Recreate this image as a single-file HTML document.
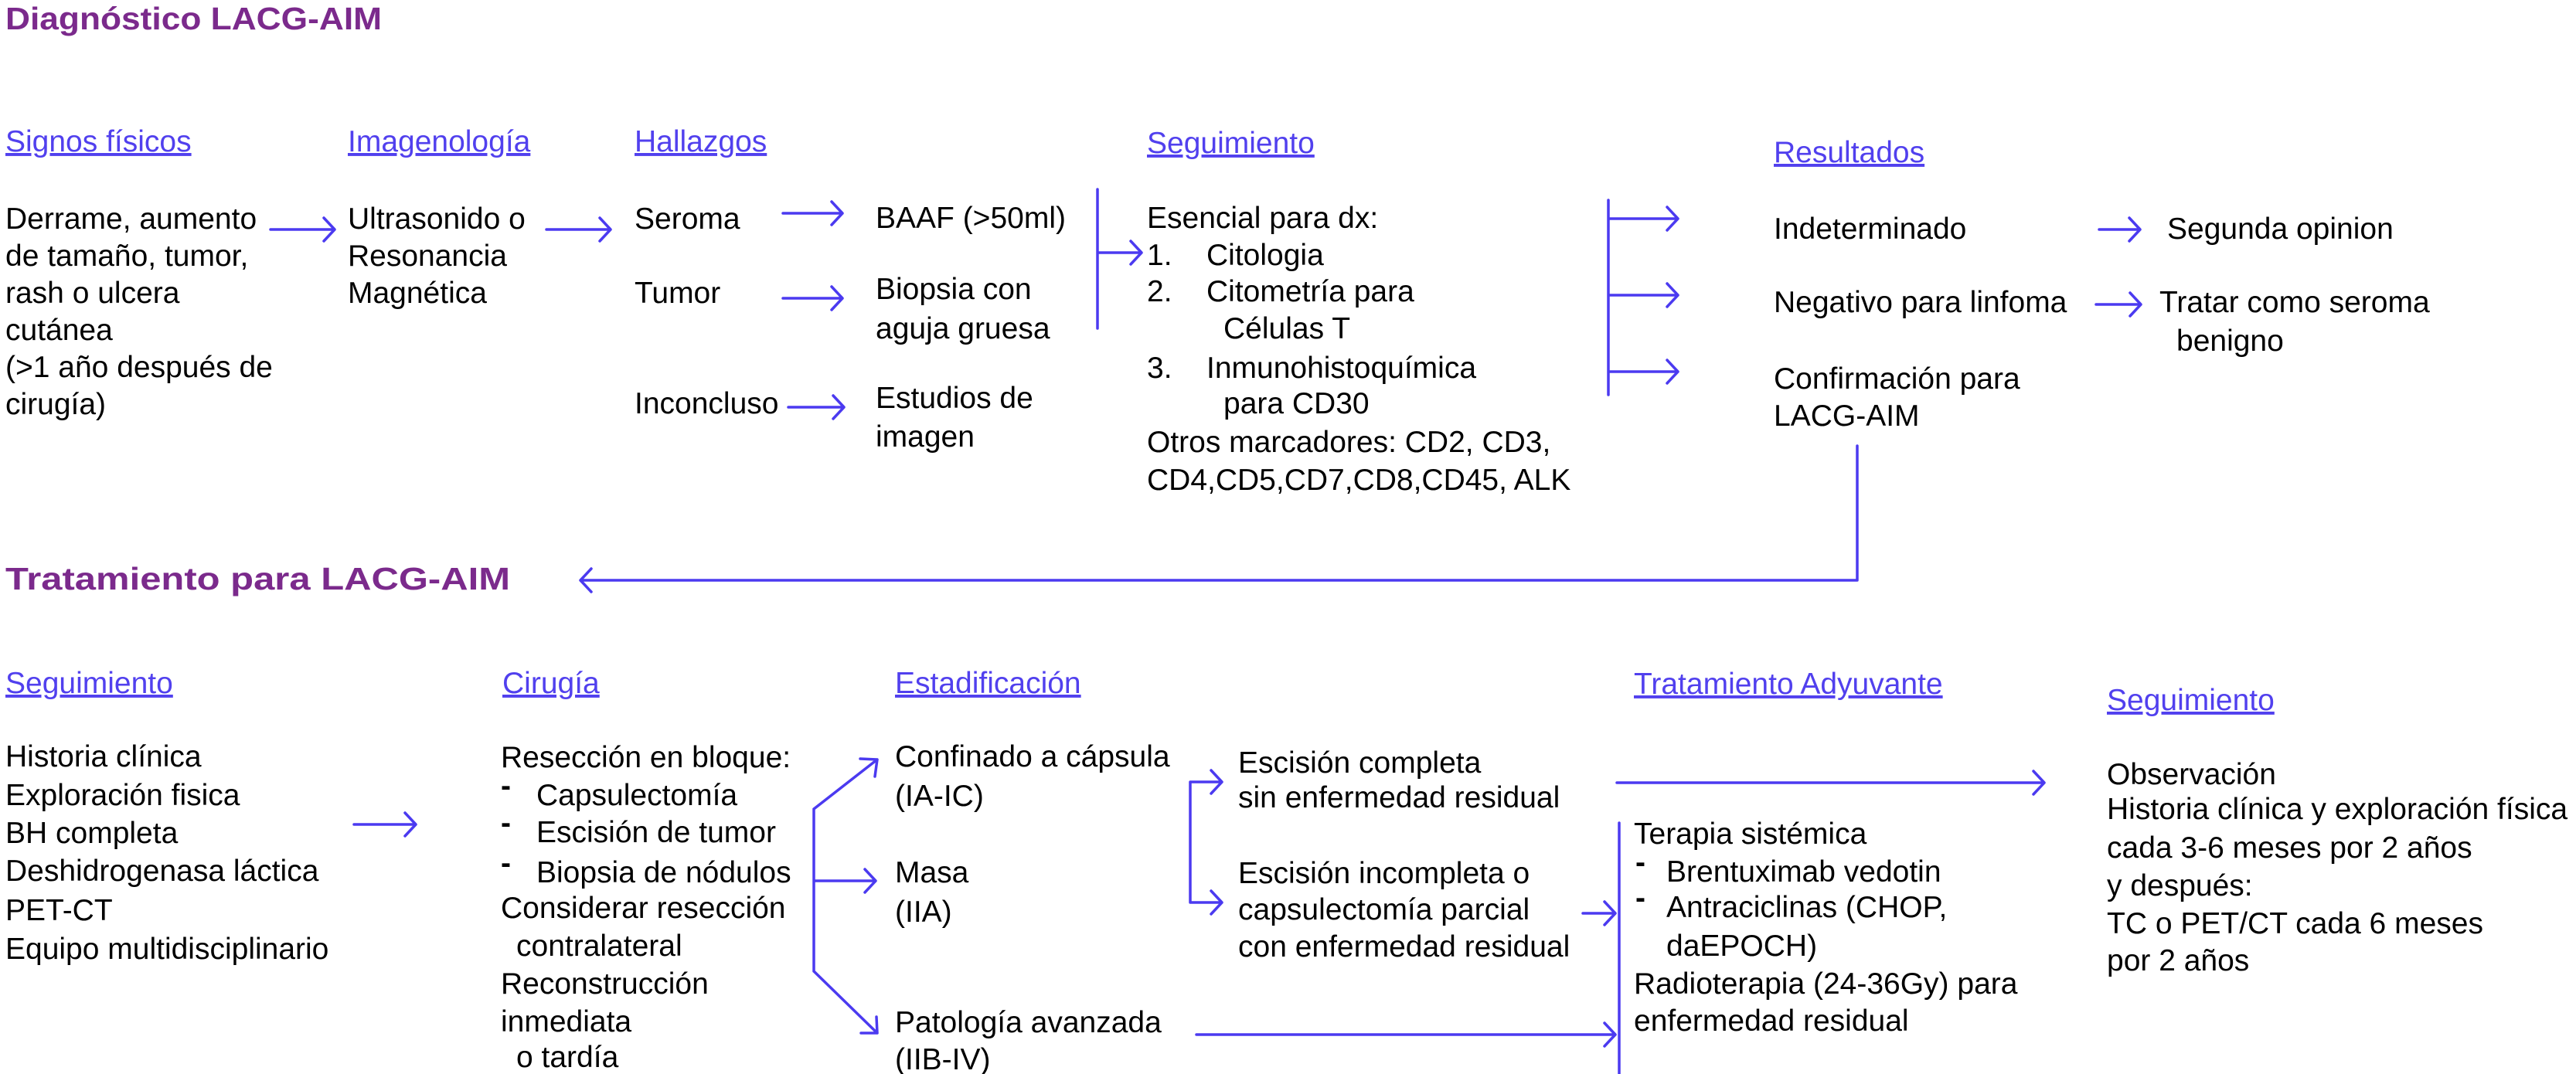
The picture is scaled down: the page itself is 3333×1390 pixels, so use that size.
<!DOCTYPE html>
<html><head><meta charset="utf-8"><style>
html,body{margin:0;padding:0;background:#fff;}
svg{display:block;}
text{font-family:"Liberation Sans",Arial,sans-serif;font-size:39px;fill:#000;}
.h{fill:#5140ee;text-decoration:underline;}
.t{font-weight:bold;fill:#7b2a8c;font-size:41px;}
.l{stroke:#4b3af0;stroke-width:3.5;fill:none;stroke-linecap:round;stroke-linejoin:round;}
</style></head><body>
<svg width="3333" height="1390" viewBox="0 0 3333 1390" xmlns="http://www.w3.org/2000/svg">
<!-- Titles -->
<text class="t" x="7" y="38" textLength="487" lengthAdjust="spacingAndGlyphs">Diagnóstico LACG-AIM</text>
<text class="t" x="7" y="763" textLength="653" lengthAdjust="spacingAndGlyphs">Tratamiento para LACG-AIM</text>

<!-- Headers top -->
<text class="h" x="7" y="196">Signos físicos</text>
<text class="h" x="450" y="196">Imagenología</text>
<text class="h" x="821" y="196">Hallazgos</text>
<text class="h" x="1484" y="198">Seguimiento</text>
<text class="h" x="2295" y="210">Resultados</text>

<!-- Column 1 -->
<text x="7" y="296">Derrame, aumento</text>
<text x="7" y="344">de tamaño, tumor,</text>
<text x="7" y="392">rash o ulcera</text>
<text x="7" y="440">cutánea</text>
<text x="7" y="488">(&gt;1 año después de</text>
<text x="7" y="536">cirugía)</text>

<text x="450" y="296">Ultrasonido o</text>
<text x="450" y="344">Resonancia</text>
<text x="450" y="392">Magnética</text>

<text x="821" y="296">Seroma</text>
<text x="821" y="392">Tumor</text>
<text x="821" y="535">Inconcluso</text>

<text x="1133" y="295">BAAF (&gt;50ml)</text>
<text x="1133" y="387">Biopsia con</text>
<text x="1133" y="438">aguja gruesa</text>
<text x="1133" y="528">Estudios de</text>
<text x="1133" y="578">imagen</text>

<text x="1484" y="295">Esencial para dx:</text>
<text x="1484" y="343">1.</text><text x="1561" y="343">Citologia</text>
<text x="1484" y="390">2.</text><text x="1561" y="390">Citometría para</text>
<text x="1583" y="438">Células T</text>
<text x="1484" y="489">3.</text><text x="1561" y="489">Inmunohistoquímica</text>
<text x="1583" y="535">para CD30</text>
<text x="1484" y="585">Otros marcadores: CD2, CD3,</text>
<text x="1484" y="634">CD4,CD5,CD7,CD8,CD45, ALK</text>

<text x="2295" y="309">Indeterminado</text>
<text x="2295" y="404">Negativo para linfoma</text>
<text x="2295" y="503">Confirmación para</text>
<text x="2295" y="551">LACG-AIM</text>

<text x="2804" y="309">Segunda opinion</text>
<text x="2794" y="404">Tratar como seroma</text>
<text x="2816" y="454">benigno</text>

<!-- Top connectors -->
<path class="l" d="M350 297 H433 M419 282 L433 297 L419 312"/>
<path class="l" d="M707 297 H790 M776 282 L790 297 L776 312"/>
<path class="l" d="M1013 276 H1090 M1076 261 L1090 276 L1076 291"/>
<path class="l" d="M1013 386 H1090 M1076 371 L1090 386 L1076 401"/>
<path class="l" d="M1020 527 H1092 M1078 512 L1092 527 L1078 542"/>
<path class="l" d="M1420 245 V425 M1420 327 H1477 M1463 312 L1477 327 L1463 342"/>
<path class="l" d="M2081 259 V511 M2081 283 H2171 M2157 268 L2171 283 L2157 298 M2081 382 H2171 M2157 367 L2171 382 L2157 397 M2081 481 H2171 M2157 466 L2171 481 L2157 496"/>
<path class="l" d="M2716 297 H2769 M2755 282 L2769 297 L2755 312"/>
<path class="l" d="M2712 394 H2770 M2756 379 L2770 394 L2756 409"/>
<path class="l" d="M2403 577 V751 H751 M765 736 L751 751 L765 766"/>

<!-- Headers bottom -->
<text class="h" x="7" y="897">Seguimiento</text>
<text class="h" x="650" y="897">Cirugía</text>
<text class="h" x="1158" y="897">Estadificación</text>
<text class="h" x="2114" y="898">Tratamiento Adyuvante</text>
<text class="h" x="2726" y="919">Seguimiento</text>

<text x="7" y="992">Historia clínica</text>
<text x="7" y="1042">Exploración fisica</text>
<text x="7" y="1091">BH completa</text>
<text x="7" y="1140">Deshidrogenasa láctica</text>
<text x="7" y="1191">PET-CT</text>
<text x="7" y="1241">Equipo multidisciplinario</text>
<path class="l" d="M458 1067 H538 M524 1052 L538 1067 L524 1082"/>

<text x="648" y="993">Resección en bloque:</text>
<text x="648" y="1030" style="font-weight:bold">-</text><text x="694" y="1042">Capsulectomía</text>
<text x="648" y="1078" style="font-weight:bold">-</text><text x="694" y="1090">Escisión de tumor</text>
<text x="648" y="1130" style="font-weight:bold">-</text><text x="694" y="1142">Biopsia de nódulos</text>
<text x="648" y="1188">Considerar resección</text>
<text x="668" y="1237">contralateral</text>
<text x="648" y="1286">Reconstrucción</text>
<text x="648" y="1335">inmediata</text>
<text x="668" y="1381">o tardía</text>

<path class="l" d="M1053 1047 V1257 M1053 1047 L1135 983 M1113 982 L1135 983 L1132 1005 M1053 1140 H1133 M1119 1125 L1133 1140 L1119 1155 M1053 1257 L1135 1337 M1134 1316 L1135 1337 L1114 1337"/>

<text x="1158" y="992">Confinado a cápsula</text>
<text x="1158" y="1043">(IA-IC)</text>
<text x="1158" y="1142">Masa</text>
<text x="1158" y="1193">(IIA)</text>
<text x="1158" y="1336">Patología avanzada</text>
<text x="1158" y="1384">(IIB-IV)</text>

<path class="l" d="M1540 1012 V1168 M1540 1012 H1581 M1567 997 L1581 1012 L1567 1027 M1540 1168 H1581 M1567 1153 L1581 1168 L1567 1183"/>
<text x="1602" y="1000">Escisión completa</text>
<text x="1602" y="1045">sin enfermedad residual</text>
<text x="1602" y="1143">Escisión incompleta o</text>
<text x="1602" y="1190">capsulectomía parcial</text>
<text x="1602" y="1238">con enfermedad residual</text>

<path class="l" d="M2092 1013 H2645 M2631 998 L2645 1013 L2631 1028"/>
<path class="l" d="M2095 1065 V1390"/>
<path class="l" d="M2048 1182 H2090 M2076 1167 L2090 1182 L2076 1197"/>
<path class="l" d="M1548 1339 H2090 M2076 1324 L2090 1339 L2076 1354"/>

<text x="2114" y="1092">Terapia sistémica</text>
<text x="2116" y="1129" style="font-weight:bold">-</text><text x="2156" y="1141">Brentuximab vedotin</text>
<text x="2116" y="1175" style="font-weight:bold">-</text><text x="2156" y="1187">Antraciclinas (CHOP,</text>
<text x="2156" y="1237">daEPOCH)</text>
<text x="2114" y="1286">Radioterapia (24-36Gy) para</text>
<text x="2114" y="1334">enfermedad residual</text>

<text x="2726" y="1015">Observación</text>
<text x="2726" y="1060">Historia clínica y exploración física</text>
<text x="2726" y="1110">cada 3-6 meses por 2 años</text>
<text x="2726" y="1159">y después:</text>
<text x="2726" y="1208">TC o PET/CT cada 6 meses</text>
<text x="2726" y="1256">por 2 años</text>
</svg>
</body></html>
